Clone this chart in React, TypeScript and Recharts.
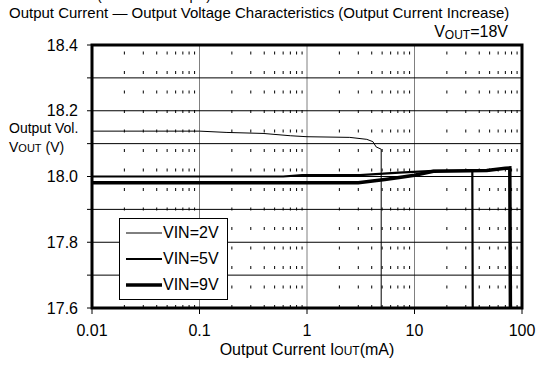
import React from "react";
import {
  LineChart,
  Line,
  XAxis,
  YAxis,
  CartesianGrid,
  ReferenceLine,
  ReferenceArea,
  Legend,
} from "recharts";

const FONT = '"Liberation Sans", Arial, sans-serif';

// axis ticks
const xTicks = [0.01, 0.1, 1, 10, 100];
const xMinor = [
  0.02, 0.03, 0.04, 0.05, 0.06, 0.07, 0.08, 0.09,
  0.2, 0.3, 0.4, 0.5, 0.6, 0.7, 0.8, 0.9,
  2, 3, 4, 5, 6, 7, 8, 9,
  20, 30, 40, 50, 60, 70, 80, 90,
];
const yTicks = [17.6, 17.7, 17.8, 17.9, 18.0, 18.1, 18.2, 18.3, 18.4];
const yLabelled = [17.6, 17.8, 18.0, 18.2, 18.4];

// VIN=2V
const vin2Current = [0.01, 0.1, 0.18, 0.39, 0.7, 1, 2.5, 3.6, 4.1, 4.4, 4.9, 4.9];
const vin2Voltage = [18.138, 18.138, 18.134, 18.131, 18.124, 18.121, 18.119, 18.113, 18.106, 18.09, 18.083, 17.6];

// VIN=5V
const vin5Current = [0.01, 0.6, 0.9, 3.1, 7.2, 15, 34.5, 34.8];
const vin5Voltage = [18.0, 18.0, 18.004, 18.004, 18.012, 18.017, 18.017, 17.6];

// VIN=9V
const vin9Current = [0.01, 3, 5.3, 7.2, 10, 15, 47, 70, 77, 78];
const vin9Voltage = [17.981, 17.981, 17.991, 17.997, 18.004, 18.016, 18.018, 18.025, 18.026, 17.6];

const series = [
  { name: "VIN=2V", current: vin2Current, voltage: vin2Voltage, width: 1 },
  { name: "VIN=5V", current: vin5Current, voltage: vin5Voltage, width: 2.2 },
  { name: "VIN=9V", current: vin9Current, voltage: vin9Voltage, width: 3.5 },
];

const toPoints = (current: number[], voltage: number[]) =>
  current.map((c, i) => ({ current: c, voltage: voltage[i] }));

const LegendBox = () => (
  <div
    style={{
      width: 109,
      height: 82,
      boxSizing: "border-box",
      border: "1px solid #000",
      background: "#fff",
      paddingTop: 1,
      fontFamily: FONT,
      fontSize: 16,
      color: "#000",
    }}
  >
    {series.map((s) => (
      <div key={s.name} style={{ display: "flex", alignItems: "center", height: 26 }}>
        <svg width={43} height={10} style={{ display: "block" }}>
          <line x1={6} x2={42} y1={5} y2={5} stroke="#000" strokeWidth={s.width} />
        </svg>
        <span style={{ lineHeight: "16px" }}>{s.name}</span>
      </div>
    ))}
  </div>
);

const App = () => {
  const tickStyle = { fontSize: 16, fill: "#000", fontFamily: FONT };

  return (
    <div style={{ position: "absolute", left: 0, top: 0, width: 536, height: 365, background: "#fff" }}>
      <LineChart
        width={536}
        height={365}
        margin={{ top: 45, right: 14, bottom: 0, left: 0 }}
        style={{ fontFamily: FONT }}
      >
        <CartesianGrid horizontal={false} stroke="#808080" strokeWidth={1} />
        <CartesianGrid vertical={false} stroke="#000" strokeWidth={1} />

        {xMinor.map((v) => (
          <ReferenceLine key={v} x={v} stroke="#000" strokeWidth={1} strokeDasharray="3 16.5" />
        ))}

        <XAxis
          dataKey="current"
          type="number"
          scale="log"
          domain={[0.01, 100]}
          ticks={xTicks}
          interval={0}
          height={57}
          axisLine={false}
          tickLine={{ stroke: "#000" }}
          tickSize={6}
          tickMargin={11}
          tick={tickStyle}
          tickFormatter={(v: number) => String(v)}
        />
        <YAxis
          type="number"
          domain={[17.6, 18.4]}
          ticks={yTicks}
          interval={0}
          width={92}
          axisLine={false}
          tickLine={{ stroke: "#000" }}
          tickSize={5}
          tickMargin={9}
          tick={tickStyle}
          tickFormatter={(v: number) => (yLabelled.some((l) => Math.abs(l - v) < 1e-6) ? v.toFixed(1) : "")}
        />

        {series.map((s) => (
          <Line
            key={s.name}
            name={s.name}
            data={toPoints(s.current, s.voltage)}
            dataKey="voltage"
            type="linear"
            stroke="#000"
            strokeWidth={s.width}
            dot={false}
            activeDot={false}
            isAnimationActive={false}
          />
        ))}

        <ReferenceArea
          x1={0.01}
          x2={100}
          y1={17.6}
          y2={18.4}
          fill="none"
          fillOpacity={0}
          stroke="#000"
          strokeWidth={3}
          ifOverflow="visible"
        />

        <Legend
          layout="vertical"
          align="center"
          verticalAlign="middle"
          width={109}
          height={82}
          wrapperStyle={{ left: 119, top: 218, width: 109, height: 82 }}
          content={() => <LegendBox />}
        />
      </LineChart>

      <svg
        width={536}
        height={365}
        style={{ position: "absolute", left: 0, top: 0, pointerEvents: "none" }}
        fontFamily={FONT}
        fill="#000"
      >
        <text x={97} y={0} fontSize={14}>(CIN=COUT=1μF)</text>
        <text x={9} y={18} fontSize={15}>
          Output Current — Output Voltage Characteristics (Output Current Increase)
        </text>
        <text x={508} y={37} fontSize={16} textAnchor="end">
          V<tspan fontSize={12} dy={2}>OUT</tspan>
          <tspan dy={-2}>=18V</tspan>
        </text>
        <text x={9} y={133} fontSize={14}>Output Vol.</text>
        <text x={9} y={152} fontSize={14}>
          V<tspan fontSize={11}>OUT</tspan> (V)
        </text>
        <text x={307} y={355} fontSize={16} textAnchor="middle">
          Output Current I<tspan fontSize={12}>OUT</tspan>(mA)
        </text>
      </svg>
    </div>
  );
};

export default App;
